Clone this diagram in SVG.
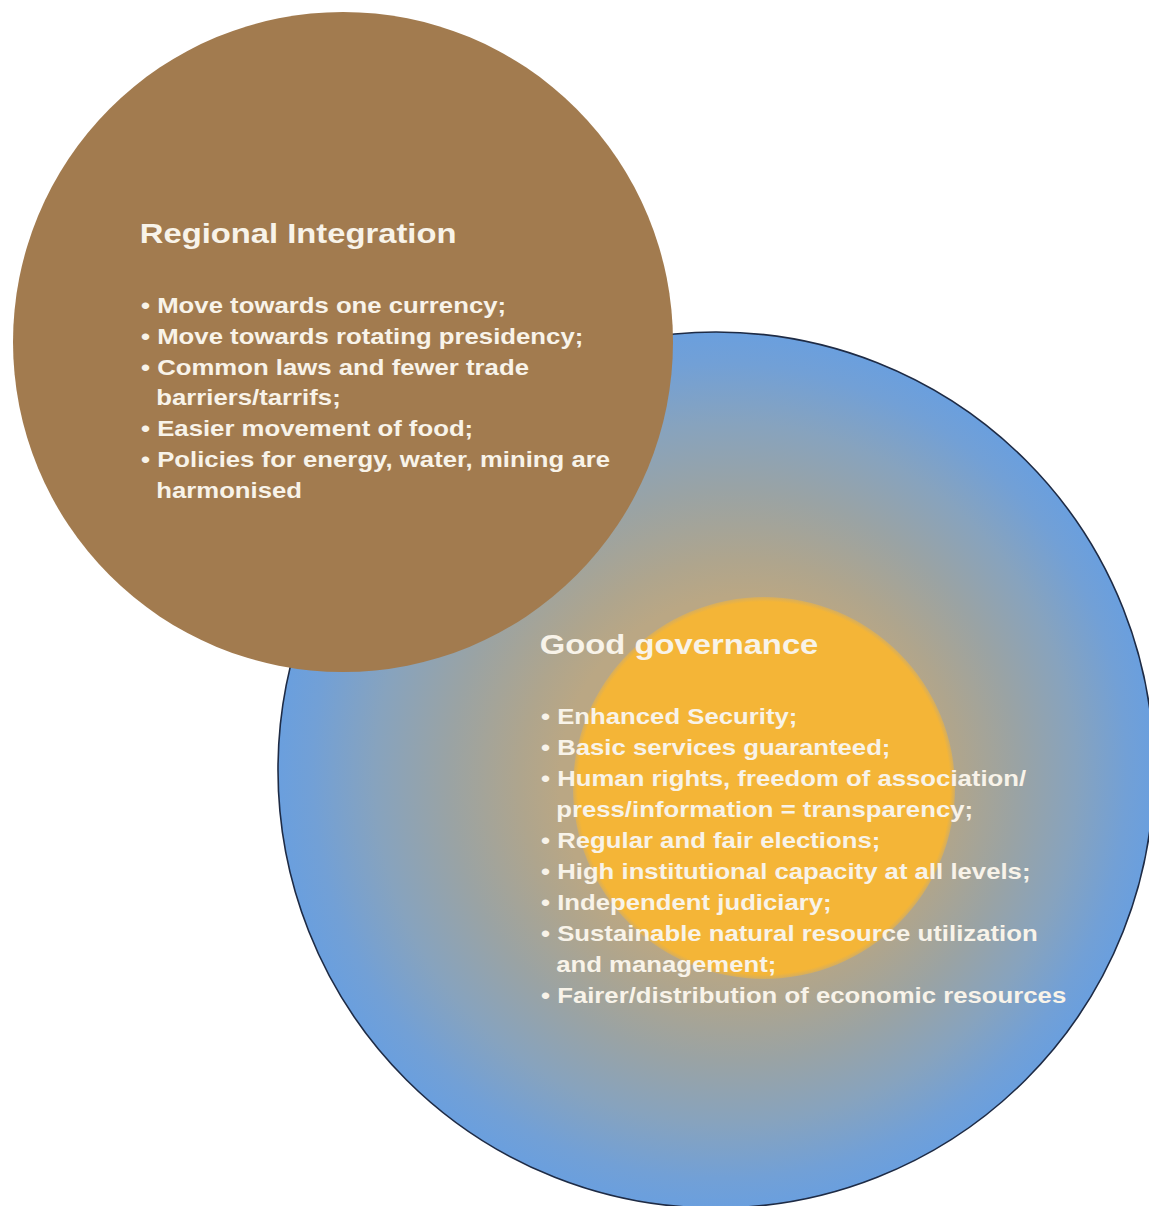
<svg xmlns="http://www.w3.org/2000/svg" width="1149" height="1206" viewBox="0 0 1149 1206">
  <defs>
    <style>
      .txt { font-family: "Liberation Sans", Arial, Helvetica, sans-serif; font-weight: bold; fill: #F8F3E9; }
      .title { font-size: 28px; }
      .item { font-size: 22px; }
    </style>
    <!-- tan glow around the core, greying out to blue at the rim -->
    <radialGradient id="governanceFill" gradientUnits="userSpaceOnUse" cx="716" cy="770" r="438" fx="764" fy="788">
      <stop offset="0" stop-color="#BCA782"/>
      <stop offset="0.42" stop-color="#BAA784"/>
      <stop offset="0.50" stop-color="#AFA58D"/>
      <stop offset="0.65" stop-color="#9AA3A4"/>
      <stop offset="0.80" stop-color="#87A3BE"/>
      <stop offset="0.93" stop-color="#72A0D6"/>
      <stop offset="1" stop-color="#6A9FDE"/>
    </radialGradient>
    <!-- orange core with a slightly soft edge -->
    <radialGradient id="coreFill" cx="0.5" cy="0.5" r="0.5">
      <stop offset="0" stop-color="#F4B537"/>
      <stop offset="0.975" stop-color="#F4B537"/>
      <stop offset="1" stop-color="#F4B537" stop-opacity="0.5"/>
    </radialGradient>
  </defs>

  <rect width="1149" height="1206" fill="#FFFFFF"/>

  <!-- Good governance (large circle, drawn underneath) -->
  <g id="node-good-governance">
    <circle cx="716" cy="770" r="438" fill="url(#governanceFill)" stroke="#1E2B45" stroke-width="1.6"/>
    <circle cx="764" cy="788" r="191" fill="url(#coreFill)"/>
  </g>

  <!-- Regional Integration (brown circle on top) -->
  <g id="node-regional-integration">
    <circle cx="343" cy="342" r="330" fill="#A27B4F"/>
    <g class="txt" transform="translate(141 0) scale(1.17 1)">
      <text class="title" x="-1" y="243">Regional Integration</text>
      <text class="item" x="0" y="313">• Move towards one currency;</text>
      <text class="item" x="0" y="344">• Move towards rotating presidency;</text>
      <text class="item" x="0" y="375">• Common laws and fewer trade</text>
      <text class="item" x="13" y="405">barriers/tarrifs;</text>
      <text class="item" x="0" y="436">• Easier movement of food;</text>
      <text class="item" x="0" y="467">• Policies for energy, water, mining are</text>
      <text class="item" x="13" y="498">harmonised</text>
    </g>
  </g>

  <!-- Good governance labels -->
  <g id="node-good-governance-text" class="txt" transform="translate(541 0) scale(1.17 1)">
    <text class="title" x="-1" y="654">Good governance</text>
    <text class="item" x="0" y="724">• Enhanced Security;</text>
    <text class="item" x="0" y="755">• Basic services guaranteed;</text>
    <text class="item" x="0" y="786">• Human rights, freedom of association/</text>
    <text class="item" x="13" y="817">press/information = transparency;</text>
    <text class="item" x="0" y="848">• Regular and fair elections;</text>
    <text class="item" x="0" y="879">• High institutional capacity at all levels;</text>
    <text class="item" x="0" y="910">• Independent judiciary;</text>
    <text class="item" x="0" y="941">• Sustainable natural resource utilization</text>
    <text class="item" x="13" y="972">and management;</text>
    <text class="item" x="0" y="1003">• Fairer/distribution of economic resources</text>
  </g>

  <g id="connectors"/>
</svg>
